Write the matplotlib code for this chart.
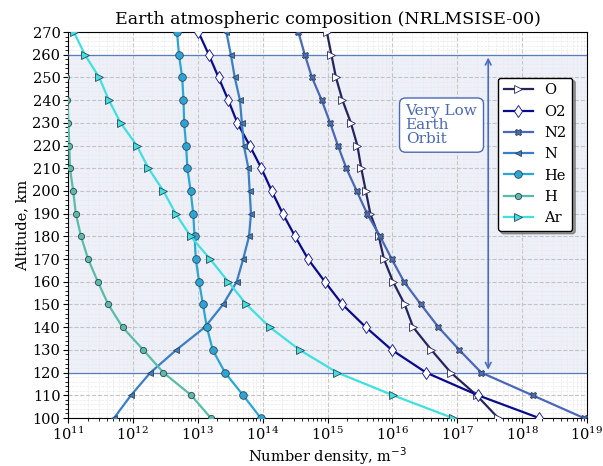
import numpy as np
import matplotlib.pyplot as plt
from matplotlib.ticker import MultipleLocator

plt.rcParams['font.family'] = 'DejaVu Serif'

altitude = np.arange(100, 271, 10)

# log10 of number density, m^-3 (100 -> 270 km)
log_O = [17.63, 17.30, 16.90, 16.60, 16.32, 16.19, 16.01, 15.87, 15.79,
         15.66, 15.59, 15.52, 15.46, 15.36, 15.23, 15.13, 15.06, 14.99]
log_O2 = [18.26, 17.32, 16.52, 15.99, 15.59, 15.23, 14.96, 14.70, 14.50,
          14.31, 14.14, 13.98, 13.80, 13.61, 13.47, 13.32, 13.17, 13.01]
log_N2 = [18.95, 18.16, 17.37, 17.03, 16.71, 16.44, 16.18, 15.99, 15.81,
          15.61, 15.45, 15.29, 15.16, 15.04, 14.91, 14.76, 14.65, 14.55]
log_N = [11.71, 11.97, 12.27, 12.67, 13.11, 13.39, 13.60, 13.70, 13.79,
         13.82, 13.80, 13.78, 13.71, 13.68, 13.65, 13.57, 13.51, 13.44]
log_He = [13.97, 13.70, 13.42, 13.23, 13.14, 13.08, 13.02, 12.97, 12.95,
          12.93, 12.89, 12.84, 12.82, 12.79, 12.78, 12.76, 12.71, 12.68]
log_H = [13.20, 12.90, 12.47, 12.16, 11.84, 11.62, 11.46, 11.31, 11.20,
         11.12, 11.08, 11.03, 11.02, 11.005, 10.99, 10.97, 10.95, 10.93]
log_Ar = [16.93, 16.01, 15.15, 14.57, 14.11, 13.75, 13.47, 13.19, 12.89,
          12.66, 12.47, 12.24, 12.06, 11.81, 11.63, 11.48, 11.26, 11.09]

species = ["O", "O2", "N2", "N", "He", "H", "Ar"]
series = [log_O, log_O2, log_N2, log_N, log_He, log_H, log_Ar]
colors = ["#25255e", "#0a0a8c", "#4a68b8", "#3a7ec6", "#2aa6d6", "#58bca8", "#3ee0e0"]
markers = [">", "d", "X", "<", "o", "o", ">"]
faces = ["white", "white", None, None, None, None, None]
sizes = [5.5, 6.5, 5, 5, 5.5, 4.5, 5.5]

fig = plt.figure(figsize=(6.03, 4.66), dpi=100)
ax = fig.add_axes([0.1128, 0.103, 0.8607, 0.8283])

ax.axhspan(120, 260, color="#eef0f9", zorder=0)
ax.axhline(120, color="#5a7cc0", lw=0.9, zorder=2.5)
ax.axhline(260, color="#5a7cc0", lw=0.9, zorder=2.5)

for name, vals, c, m, fc, s in zip(species, series, colors, markers, faces, sizes):
    ax.plot(10 ** np.array(vals), altitude, color=c, lw=1.6, marker=m,
            markersize=s, markerfacecolor=fc if fc else c,
            markeredgecolor="#334455" if fc is None else c,
            markeredgewidth=0.6, label=name, zorder=3)

ax.annotate("", xy=(3e17, 120), xytext=(3e17, 260),
            arrowprops=dict(arrowstyle="<->", color="#4a6cc0", lw=1.2,
                            mutation_scale=10), zorder=2.6)
ax.text(1.6e16, 229, "Very Low\nEarth\nOrbit", color="#4a68b8", fontsize=11,
        va="center", ha="left", linespacing=1.0,
        bbox=dict(boxstyle="round,pad=0.4", fc="white", ec="#4a68b8", lw=1.0))

ax.set_xscale("log")
ax.set_xlim(1e11, 1e19)
ax.set_ylim(100, 270)
ax.yaxis.set_major_locator(MultipleLocator(10))
ax.yaxis.set_minor_locator(MultipleLocator(2))
ax.grid(which="major", ls="--", color="#c4c4c4", lw=0.8)
ax.grid(which="minor", ls="--", color="#eaeaea", lw=0.5)
ax.tick_params(labelsize=10.5, pad=2)

ax.set_xlabel("Number density, m$^{-3}$", fontsize=10.5, labelpad=2)
ax.set_ylabel("Altitude, km", fontsize=10.5, labelpad=2)
ax.set_title("Earth atmospheric composition (NRLMSISE-00)", fontsize=12.5)

leg = ax.legend(loc="upper right", bbox_to_anchor=(0.972, 0.882), fontsize=10.5,
                fancybox=True, shadow=True, framealpha=1, edgecolor="black",
                handlelength=2.0, borderaxespad=0, labelspacing=0.5)

fig.savefig("out.png", dpi=100)
